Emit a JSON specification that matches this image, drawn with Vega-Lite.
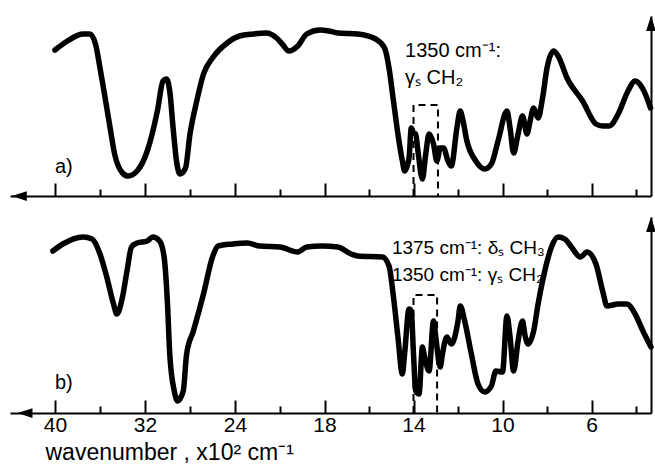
{
  "$schema": "https://vega.github.io/schema/vega-lite/v6.json",
  "padding": {"left": 0, "top": 15, "right": 4, "bottom": 0},
  "spacing": 15,
  "config": {"view": {"stroke": null}, "font": "Liberation Sans", "background": "white"},
  "datasets": {
    "a": [
      {"w": 40.0, "t": 146}, {"w": 38.9, "t": 155}, {"w": 37.5, "t": 162}, {"w": 36.9, "t": 162}, {"w": 36.4, "t": 152},
      {"w": 36.0, "t": 128}, {"w": 35.6, "t": 102}, {"w": 35.1, "t": 68}, {"w": 34.7, "t": 42}, {"w": 34.0, "t": 23},
      {"w": 33.5, "t": 20}, {"w": 32.7, "t": 25}, {"w": 31.8, "t": 45}, {"w": 30.9, "t": 85}, {"w": 30.4, "t": 115},
      {"w": 30.1, "t": 117}, {"w": 29.8, "t": 105}, {"w": 29.5, "t": 68}, {"w": 29.2, "t": 35}, {"w": 28.9, "t": 22},
      {"w": 28.4, "t": 28}, {"w": 28.0, "t": 62}, {"w": 27.4, "t": 95}, {"w": 26.8, "t": 122}, {"w": 26.0, "t": 138},
      {"w": 24.7, "t": 153}, {"w": 23.6, "t": 160}, {"w": 22.4, "t": 162}, {"w": 21.2, "t": 163}, {"w": 20.3, "t": 158},
      {"w": 19.9, "t": 152}, {"w": 19.6, "t": 145}, {"w": 19.2, "t": 150}, {"w": 18.8, "t": 162}, {"w": 18.2, "t": 166},
      {"w": 17.8, "t": 165}, {"w": 17.4, "t": 163}, {"w": 16.5, "t": 162}, {"w": 15.7, "t": 157}, {"w": 15.3, "t": 148},
      {"w": 15.1, "t": 128}, {"w": 14.9, "t": 95}, {"w": 14.7, "t": 62}, {"w": 14.5, "t": 35}, {"w": 14.4, "t": 25},
      {"w": 14.2, "t": 38}, {"w": 14.1, "t": 68}, {"w": 14.0, "t": 63}, {"w": 13.9, "t": 62}, {"w": 13.8, "t": 45},
      {"w": 13.6, "t": 17}, {"w": 13.45, "t": 42}, {"w": 13.3, "t": 62}, {"w": 13.1, "t": 52}, {"w": 12.95, "t": 35},
      {"w": 12.8, "t": 48}, {"w": 12.65, "t": 48}, {"w": 12.45, "t": 35}, {"w": 12.3, "t": 30}, {"w": 12.05, "t": 68},
      {"w": 11.9, "t": 85}, {"w": 11.8, "t": 78}, {"w": 11.6, "t": 55}, {"w": 11.2, "t": 35}, {"w": 10.8, "t": 27},
      {"w": 10.5, "t": 32}, {"w": 10.2, "t": 55}, {"w": 9.8, "t": 85}, {"w": 9.66, "t": 68}, {"w": 9.5, "t": 43},
      {"w": 9.3, "t": 62}, {"w": 9.1, "t": 80}, {"w": 8.9, "t": 62}, {"w": 8.76, "t": 75}, {"w": 8.6, "t": 88},
      {"w": 8.4, "t": 78}, {"w": 8.2, "t": 98}, {"w": 8.0, "t": 128}, {"w": 7.7, "t": 145}, {"w": 7.5, "t": 140},
      {"w": 7.1, "t": 118}, {"w": 6.4, "t": 95}, {"w": 5.8, "t": 72}, {"w": 5.5, "t": 70}, {"w": 5.2, "t": 70},
      {"w": 4.8, "t": 82}, {"w": 4.36, "t": 105}, {"w": 4.04, "t": 115}, {"w": 3.7, "t": 107}, {"w": 3.37, "t": 88}
    ],
    "b": [
      {"w": 40.2, "t": 162}, {"w": 39.3, "t": 169}, {"w": 37.5, "t": 176}, {"w": 36.7, "t": 174}, {"w": 36.0, "t": 159},
      {"w": 35.4, "t": 136}, {"w": 34.8, "t": 109}, {"w": 34.5, "t": 99}, {"w": 34.0, "t": 116}, {"w": 33.6, "t": 142},
      {"w": 33.2, "t": 166}, {"w": 32.7, "t": 170}, {"w": 31.8, "t": 172}, {"w": 31.3, "t": 176}, {"w": 30.7, "t": 172},
      {"w": 30.3, "t": 156}, {"w": 30.0, "t": 109}, {"w": 29.8, "t": 59}, {"w": 29.4, "t": 22}, {"w": 29.1, "t": 12},
      {"w": 28.6, "t": 22}, {"w": 28.3, "t": 59}, {"w": 27.7, "t": 82}, {"w": 26.8, "t": 119}, {"w": 26.0, "t": 156},
      {"w": 25.5, "t": 167}, {"w": 24.2, "t": 169}, {"w": 22.9, "t": 170}, {"w": 21.8, "t": 167}, {"w": 20.0, "t": 166},
      {"w": 19.2, "t": 161}, {"w": 18.8, "t": 166}, {"w": 18.1, "t": 167}, {"w": 17.4, "t": 166}, {"w": 16.8, "t": 159},
      {"w": 16.5, "t": 157}, {"w": 15.4, "t": 156}, {"w": 15.1, "t": 147}, {"w": 14.9, "t": 116}, {"w": 14.7, "t": 76},
      {"w": 14.5, "t": 39}, {"w": 14.4, "t": 59}, {"w": 14.2, "t": 104}, {"w": 14.1, "t": 102}, {"w": 14.0, "t": 59},
      {"w": 13.9, "t": 22}, {"w": 13.75, "t": 19}, {"w": 13.6, "t": 66}, {"w": 13.5, "t": 56}, {"w": 13.3, "t": 42},
      {"w": 13.1, "t": 92}, {"w": 13.0, "t": 76}, {"w": 12.8, "t": 46}, {"w": 12.7, "t": 59}, {"w": 12.5, "t": 76},
      {"w": 12.3, "t": 69}, {"w": 12.0, "t": 92}, {"w": 11.9, "t": 107}, {"w": 11.7, "t": 92}, {"w": 11.4, "t": 59},
      {"w": 11.1, "t": 29}, {"w": 10.8, "t": 21}, {"w": 10.5, "t": 27}, {"w": 10.3, "t": 42}, {"w": 10.0, "t": 41},
      {"w": 9.8, "t": 97}, {"w": 9.66, "t": 76}, {"w": 9.5, "t": 42}, {"w": 9.3, "t": 72}, {"w": 9.1, "t": 92},
      {"w": 9.0, "t": 79}, {"w": 8.85, "t": 69}, {"w": 8.6, "t": 82}, {"w": 8.4, "t": 109}, {"w": 8.1, "t": 142},
      {"w": 7.8, "t": 166}, {"w": 7.5, "t": 176}, {"w": 7.2, "t": 174}, {"w": 6.9, "t": 166}, {"w": 6.5, "t": 156},
      {"w": 6.2, "t": 161}, {"w": 5.8, "t": 149}, {"w": 5.5, "t": 122}, {"w": 5.3, "t": 107}, {"w": 4.8, "t": 109},
      {"w": 4.4, "t": 109}, {"w": 4.04, "t": 99}, {"w": 3.7, "t": 82}, {"w": 3.35, "t": 66}
    ]
  },
  "vconcat": [
    {
      "width": 651,
      "height": 180,
      "resolve": {"axis": {"x": "independent"}},
      "layer": [
        {
          "data": {"name": "a"},
          "mark": {"type": "line", "color": "black", "strokeWidth": 5.5, "interpolate": "monotone", "strokeCap": "round", "strokeJoin": "round"},
          "encoding": {
            "x": {"field": "w", "type": "quantitative",
              "scale": {"domain": [44.2, 40, 20, 4, 3.35], "range": [10, 55, 280, 636, 651], "nice": false, "zero": false},
              "axis": {"orient": "bottom", "values": [40, 32, 24, 18, 14, 10, 6], "labels": false, "title": null, "grid": false,
                "domainWidth": 2, "domainColor": "black", "tickColor": "black", "tickWidth": 2, "tickSize": -13}},
            "y": {"field": "t", "type": "quantitative",
              "scale": {"domain": [0, 180], "nice": false, "zero": false},
              "axis": {"orient": "right", "ticks": false, "labels": false, "title": null, "grid": false, "domainWidth": 2, "domainColor": "black"}}
          }
        },
        {
          "data": {"values": [{"w": 36}, {"w": 28}, {"w": 20}, {"w": 16}, {"w": 12}, {"w": 8}, {"w": 4}]},
          "mark": {"type": "point", "opacity": 0},
          "encoding": {
            "x": {"field": "w", "type": "quantitative",
              "axis": {"orient": "bottom", "values": [36, 28, 20, 16, 12, 8, 4], "labels": false, "title": null, "grid": false,
                "domain": false, "tickColor": "black", "tickWidth": 2, "tickSize": -7}}
          }
        },
        {
          "data": {"values": [{"w": 14.0, "t": 0, "o": 1}, {"w": 14.0, "t": 91, "o": 2}, {"w": 12.9, "t": 91, "o": 3}, {"w": 12.9, "t": 0, "o": 4}]},
          "mark": {"type": "line", "color": "black", "strokeWidth": 2, "strokeDash": [7, 5]},
          "encoding": {
            "x": {"field": "w", "type": "quantitative", "axis": null},
            "y": {"field": "t", "type": "quantitative"},
            "order": {"field": "o"}
          }
        },
        {
          "data": {"values": [{"w": 43.33, "t": 0}]},
          "mark": {"type": "point", "shape": "M -1 0 L 1 -0.65 L 1 0.65 Z", "size": 225, "filled": true, "color": "black", "opacity": 1},
          "encoding": {
            "x": {"field": "w", "type": "quantitative", "axis": null},
            "y": {"field": "t", "type": "quantitative"}
          }
        },
        {
          "data": {"values": [{"w": 3.35, "t": 172.5}]},
          "mark": {"type": "point", "shape": "M 0 -1 L -0.65 1 L 0.65 1 Z", "size": 225, "filled": true, "color": "black", "opacity": 1},
          "encoding": {
            "x": {"field": "w", "type": "quantitative", "axis": null},
            "y": {"field": "t", "type": "quantitative"}
          }
        },
        {
          "data": {"values": [
            {"w": 14.38, "t": 145, "label": "1350 cm⁻¹:"},
            {"w": 14.38, "t": 118, "label": "γₛ CH₂"},
            {"w": 40.0, "t": 29, "label": "a)"}
          ]},
          "mark": {"type": "text", "align": "left", "baseline": "middle", "fontSize": 20, "color": "black"},
          "encoding": {
            "x": {"field": "w", "type": "quantitative", "axis": null},
            "y": {"field": "t", "type": "quantitative"},
            "text": {"field": "label"}
          }
        }
      ]
    },
    {
      "width": 651,
      "height": 196,
      "resolve": {"axis": {"x": "independent"}},
      "layer": [
        {
          "data": {"name": "b"},
          "mark": {"type": "line", "color": "black", "strokeWidth": 5.5, "interpolate": "monotone", "strokeCap": "round", "strokeJoin": "round"},
          "encoding": {
            "x": {"field": "w", "type": "quantitative",
              "scale": {"domain": [44.2, 40, 20, 4, 3.35], "range": [10, 55, 280, 636, 651], "nice": false, "zero": false},
              "axis": {"orient": "bottom", "values": [40, 32, 24, 18, 14, 10, 6], "title": "wavenumber , x10² cm⁻¹", "grid": false,
                "domainWidth": 2, "domainColor": "black", "tickColor": "black", "tickWidth": 2, "tickSize": -13,
                "labelFontSize": 21, "labelColor": "black", "labelPadding": 14, "labelFlush": false,
                "titleFontSize": 23, "titleFontWeight": "normal", "titleColor": "black", "titleX": 45, "titleY": 46,
                "titleAlign": "left", "titleBaseline": "alphabetic", "titleAnchor": "start"}},
            "y": {"field": "t", "type": "quantitative",
              "scale": {"domain": [0, 196], "nice": false, "zero": false},
              "axis": {"orient": "right", "ticks": false, "labels": false, "title": null, "grid": false, "domainWidth": 2, "domainColor": "black"}}
          }
        },
        {
          "data": {"values": [{"w": 36}, {"w": 28}, {"w": 20}, {"w": 16}, {"w": 12}, {"w": 8}, {"w": 4}]},
          "mark": {"type": "point", "opacity": 0},
          "encoding": {
            "x": {"field": "w", "type": "quantitative",
              "axis": {"orient": "bottom", "values": [36, 28, 20, 16, 12, 8, 4], "labels": false, "title": null, "grid": false,
                "domain": false, "tickColor": "black", "tickWidth": 2, "tickSize": -7}}
          }
        },
        {
          "data": {"values": [{"w": 14.0, "t": 0, "o": 1}, {"w": 14.0, "t": 118, "o": 2}, {"w": 12.94, "t": 118, "o": 3}, {"w": 12.94, "t": 0, "o": 4}]},
          "mark": {"type": "line", "color": "black", "strokeWidth": 2, "strokeDash": [7, 5]},
          "encoding": {
            "x": {"field": "w", "type": "quantitative", "axis": null},
            "y": {"field": "t", "type": "quantitative"},
            "order": {"field": "o"}
          }
        },
        {
          "data": {"values": [{"w": 42.8, "t": 0}]},
          "mark": {"type": "point", "shape": "M -1 0 L 1 -0.65 L 1 0.65 Z", "size": 225, "filled": true, "color": "black", "opacity": 1},
          "encoding": {
            "x": {"field": "w", "type": "quantitative", "axis": null},
            "y": {"field": "t", "type": "quantitative"}
          }
        },
        {
          "data": {"values": [{"w": 3.35, "t": 188.5}]},
          "mark": {"type": "point", "shape": "M 0 -1 L -0.65 1 L 0.65 1 Z", "size": 225, "filled": true, "color": "black", "opacity": 1},
          "encoding": {
            "x": {"field": "w", "type": "quantitative", "axis": null},
            "y": {"field": "t", "type": "quantitative"}
          }
        },
        {
          "data": {"values": [
            {"w": 14.97, "t": 165, "label": "1375 cm⁻¹: δₛ CH₃"},
            {"w": 14.97, "t": 138, "label": "1350 cm⁻¹: γₛ CH₂"}
          ]},
          "mark": {"type": "text", "align": "left", "baseline": "middle", "fontSize": 19, "color": "black"},
          "encoding": {
            "x": {"field": "w", "type": "quantitative", "axis": null},
            "y": {"field": "t", "type": "quantitative"},
            "text": {"field": "label"}
          }
        },
        {
          "data": {"values": [{"w": 40.0, "t": 30, "label": "b)"}]},
          "mark": {"type": "text", "align": "left", "baseline": "middle", "fontSize": 20, "color": "black"},
          "encoding": {
            "x": {"field": "w", "type": "quantitative", "axis": null},
            "y": {"field": "t", "type": "quantitative"},
            "text": {"field": "label"}
          }
        }
      ]
    }
  ]
}
